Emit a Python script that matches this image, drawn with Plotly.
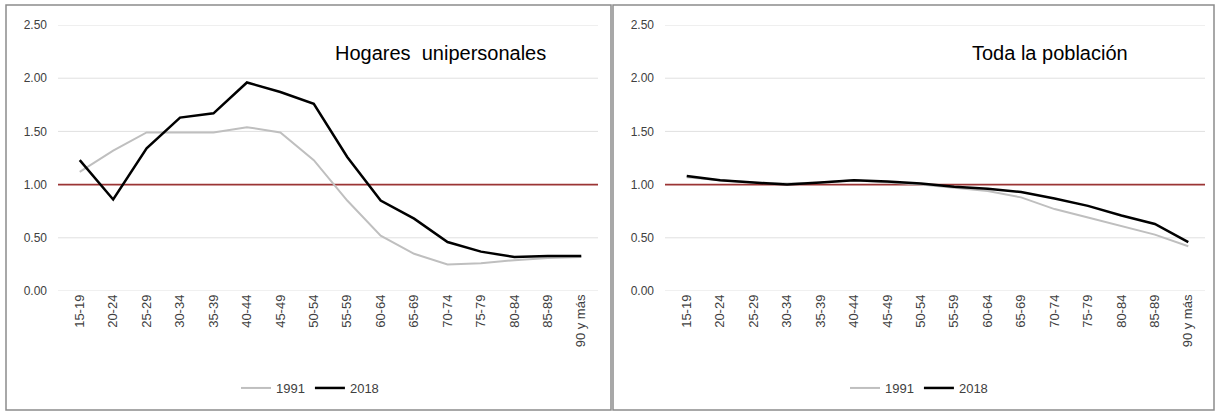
import plotly.graph_objects as go

W, H = 1216, 411

categories = ["15-19", "20-24", "25-29", "30-34", "35-39", "40-44", "45-49", "50-54",
              "55-59", "60-64", "65-69", "70-74", "75-79", "80-84", "85-89", "90 y más"]

uni_1991 = [1.12, 1.32, 1.49, 1.49, 1.49, 1.54, 1.49, 1.23, 0.85, 0.52, 0.35, 0.25, 0.26, 0.29, 0.31, 0.32]
uni_2018 = [1.23, 0.86, 1.34, 1.63, 1.67, 1.96, 1.87, 1.76, 1.26, 0.85, 0.68, 0.46, 0.37, 0.32, 0.33, 0.33]

tot_1991 = [1.07, 1.04, 1.02, 1.01, 1.02, 1.04, 1.02, 1.00, 0.97, 0.94, 0.88, 0.77, 0.69, 0.61, 0.53, 0.42]
tot_2018 = [1.08, 1.04, 1.02, 1.00, 1.02, 1.04, 1.03, 1.01, 0.98, 0.96, 0.93, 0.87, 0.80, 0.71, 0.63, 0.46]

y_ticks = [0, 0.5, 1.0, 1.5, 2.0, 2.5]
ref_value = 1.0
series_names = ["1991", "2018"]
titles = ["Hogares  unipersonales", "Toda la población"]

GRAY = "#bfbfbf"
BLACK = "#000000"
RED = "#9b3434"
FONT = "Liberation Sans"
TXT = "#404040"

fig = go.Figure()

def px_x(v):
    return v / W

def px_y(v):
    return 1 - v / H

# Left panel traces
fig.add_trace(go.Scatter(x=categories, y=uni_1991, name=series_names[0], mode="lines",
                         line=dict(color=GRAY, width=2), xaxis="x", yaxis="y", legend="legend"))
fig.add_trace(go.Scatter(x=categories, y=uni_2018, name=series_names[1], mode="lines",
                         line=dict(color=BLACK, width=2.5), xaxis="x", yaxis="y", legend="legend"))
# Right panel traces
fig.add_trace(go.Scatter(x=categories, y=tot_1991, name=series_names[0], mode="lines",
                         line=dict(color=GRAY, width=2), xaxis="x2", yaxis="y2", legend="legend2"))
fig.add_trace(go.Scatter(x=categories, y=tot_2018, name=series_names[1], mode="lines",
                         line=dict(color=BLACK, width=2.5), xaxis="x2", yaxis="y2", legend="legend2"))

xcommon = dict(type="category", tickangle=-90, showgrid=False, zeroline=False,
               showline=False, ticks="", tickfont=dict(family=FONT, size=13, color=TXT),
               range=[-0.65, 15.5], fixedrange=True, automargin=False)
ycommon = dict(range=[0, 2.5], tickvals=y_ticks, tickformat=".2f", showgrid=False,
               zeroline=False, showline=False, ticks="", ticklabelstandoff=10,
               tickfont=dict(family=FONT, size=12, color=TXT), fixedrange=True,
               automargin=False)

y_top = px_y(25)
y_bot = px_y(291)

fig.update_layout(
    width=W, height=H,
    margin=dict(l=0, r=0, t=0, b=0, autoexpand=False),
    paper_bgcolor="white", plot_bgcolor="white",
    xaxis=dict(domain=[px_x(58), px_x(598)], anchor="y", **xcommon),
    yaxis=dict(domain=[y_bot, y_top], anchor="x", **ycommon),
    xaxis2=dict(domain=[px_x(665), px_x(1205)], anchor="y2", **xcommon),
    yaxis2=dict(domain=[y_bot, y_top], anchor="x2", **ycommon),
    legend=dict(orientation="h", x=px_x(310), y=px_y(388), xanchor="center", yanchor="middle",
                font=dict(family=FONT, size=13, color=TXT), itemwidth=30,
                bgcolor="rgba(0,0,0,0)"),
    legend2=dict(orientation="h", x=px_x(919), y=px_y(388), xanchor="center", yanchor="middle",
                 font=dict(family=FONT, size=13, color=TXT), itemwidth=30,
                 bgcolor="rgba(0,0,0,0)"),
    showlegend=True,
)

# Gridlines (except at the reference value) and the red reference line
for xa, ya in (("x", "y"), ("x2", "y2")):
    for t in y_ticks:
        if t == ref_value:
            continue
        fig.add_shape(type="line", xref=f"{xa} domain", yref=ya, x0=0, x1=1, y0=t, y1=t,
                      line=dict(color="#e0e0e0", width=1), layer="below")
    fig.add_shape(type="line", xref=f"{xa} domain", yref=ya, x0=0, x1=1,
                  y0=ref_value, y1=ref_value,
                  line=dict(color=RED, width=1.75), layer="below")

# Panel borders
for x0, x1 in ((6, 611), (613, 1214)):
    fig.add_shape(type="rect", xref="paper", yref="paper",
                  x0=px_x(x0), x1=px_x(x1), y0=px_y(410), y1=px_y(5),
                  line=dict(color="#8c8c8c", width=1.5), fillcolor="rgba(0,0,0,0)")

# Titles
fig.add_annotation(text=titles[0], xref="paper", yref="paper", x=px_x(333), y=px_y(53),
                   xanchor="left", yanchor="middle", showarrow=False,
                   font=dict(family=FONT, size=20, color="#000000"))
fig.add_annotation(text=titles[1], xref="paper", yref="paper", x=px_x(970), y=px_y(53),
                   xanchor="left", yanchor="middle", showarrow=False,
                   font=dict(family=FONT, size=20, color="#000000"))

fig.write_html("out.html", config={"displayModeBar": False},
               post_script="document.body.style.margin='0';document.body.style.overflow='hidden';")
